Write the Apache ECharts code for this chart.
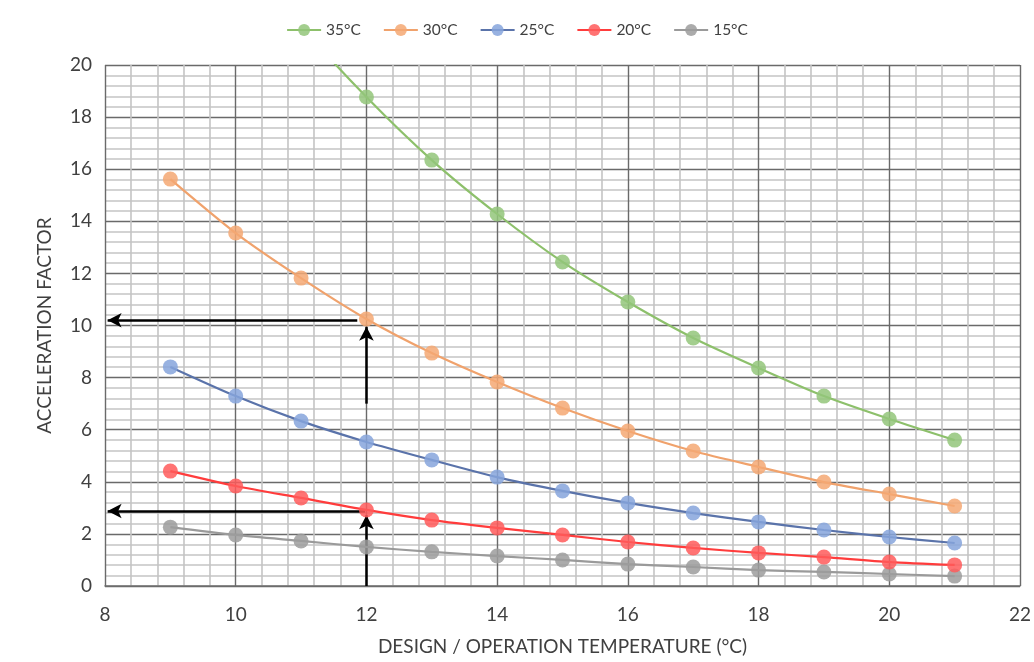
<!DOCTYPE html>
<html>
<head>
<meta charset="utf-8">
<script src="https://cdn.jsdelivr.net/npm/echarts@6/dist/echarts.min.js"></script>
<style>
  html, body { margin: 0; padding: 0; background: #ffffff; }
  #chart { width: 1034px; height: 662px; }
</style>
</head>
<body>
<div id="chart"></div>
<script>
// Design / operation temperature (°C)
const temperatures = [9, 10, 11, 12, 13, 14, 15, 16, 17, 18, 19, 20, 21];

// Acceleration factor per reference temperature
const af35 = [28.2, 24.6, 21.5, 18.77, 16.35, 14.28, 12.44, 10.90, 9.52, 8.37, 7.29, 6.41, 5.60];
const af30 = [15.62, 13.55, 11.82, 10.25, 8.94, 7.83, 6.83, 5.95, 5.18, 4.57, 3.99, 3.53, 3.07];
const af25 = [8.41, 7.29, 6.33, 5.53, 4.84, 4.18, 3.65, 3.19, 2.80, 2.46, 2.15, 1.88, 1.65];
const af20 = [4.41, 3.84, 3.38, 2.92, 2.53, 2.23, 1.96, 1.69, 1.46, 1.27, 1.11, 0.92, 0.81];
const af15 = [2.26, 1.96, 1.73, 1.50, 1.31, 1.15, 1.00, 0.84, 0.73, 0.61, 0.54, 0.46, 0.38];

const seriesNames = ['35°C', '30°C', '25°C', '20°C', '15°C'];

// Read-off arrows: [from x, from y, to x, to y]
const readArrows = [
  [11.86, 10.2, 8.04, 10.2],
  [11.98, 2.88, 8.04, 2.88],
  [12, 7.0, 12, 9.95],
  [12, 0, 12, 2.72]
];

const styles = [
  { line: '#8dc06b', mark: '#93c57a' },
  { line: '#f0a26c', mark: '#f5a873' },
  { line: '#5a73aa', mark: '#86a5dc' },
  { line: '#ff3c3c', mark: '#ff5a5a' },
  { line: '#9a9a9a', mark: '#9c9c9c' }
];

const valueSets = [af35, af30, af25, af20, af15];

const series = valueSets.map((vals, i) => ({
  name: seriesNames[i],
  type: 'line',
  smooth: 0.25,
  clip: true,
  data: temperatures.map((t, k) => [t, vals[k]]),
  symbol: 'circle',
  symbolSize: 15,
  lineStyle: { color: styles[i].line, width: 2.2 },
  itemStyle: { color: styles[i].mark, opacity: 0.85, borderWidth: 0 },
  z: 10 - i
}));

series.push({
  name: 'arrows',
  type: 'line',
  data: [],
  silent: true,
  markLine: {
    silent: true,
    animation: false,
    symbol: ['none', 'arrow'],
    symbolSize: [11, 14],
    label: { show: false },
    lineStyle: { color: '#000000', width: 2.5, type: 'solid' },
    emphasis: { disabled: true },
    data: readArrows.map(a => [
      { coord: [a[0], a[1]] },
      { coord: [a[2], a[3]] }
    ])
  },
  z: 20
});

const chart = echarts.init(document.getElementById('chart'), null, { renderer: 'canvas' });
chart.setOption({
  animation: false,
  backgroundColor: '#ffffff',
  textStyle: { fontFamily: 'Lato, "Open Sans", sans-serif' },
  legend: {
    data: seriesNames,
    top: 17,
    left: 'center',
    itemWidth: 34,
    itemHeight: 15,
    itemGap: 22,
    textStyle: { fontSize: 15.5, color: '#404040', fontFamily: 'Lato, sans-serif' }
  },
  grid: { left: 105, right: 14, top: 65, bottom: 76, containLabel: false, outerBoundsMode: 'none' },
  xAxis: {
    type: 'value',
    min: 8,
    max: 22,
    interval: 2,
    name: 'DESIGN / OPERATION TEMPERATURE (°C)',
    nameLocation: 'middle',
    nameGap: 51,
    nameTextStyle: { fontSize: 19, color: '#404040' },
    axisLine: { show: true, lineStyle: { color: '#6e6e6e', width: 1.5 } },
    axisTick: { show: false },
    axisLabel: { fontSize: 19, color: '#404040', margin: 19 },
    splitLine: { show: true, lineStyle: { color: '#6a6a6a', width: 1.4 } },
    minorTick: { show: false, splitNumber: 5 },
    minorSplitLine: { show: true, lineStyle: { color: '#c4c4c4', width: 1.6 } }
  },
  yAxis: {
    type: 'value',
    min: 0,
    max: 20,
    interval: 2,
    name: 'ACCELERATION FACTOR',
    nameLocation: 'middle',
    nameGap: 51,
    nameTextStyle: { fontSize: 19, color: '#404040' },
    axisLine: { show: false },
    axisTick: { show: false },
    axisLabel: { fontSize: 19, color: '#404040', margin: 13 },
    splitLine: { show: true, lineStyle: { color: '#6a6a6a', width: 1.4 } },
    minorTick: { show: false, splitNumber: 5 },
    minorSplitLine: { show: true, lineStyle: { color: '#c4c4c4', width: 1.6 } }
  },
  series: series
});
</script>
</body>
</html>
